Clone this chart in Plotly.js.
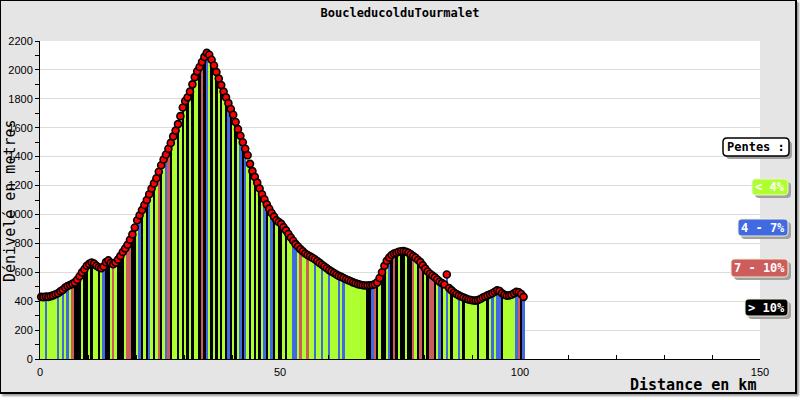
<!DOCTYPE html>
<html><head><meta charset="utf-8">
<script src="https://cdn.plot.ly/plotly-3.0.1.min.js"></script>
<style>
html,body{margin:0;padding:0;background:#fff;}
#frame{position:absolute;left:0;top:0;width:794px;height:391px;border-left:1px solid #000;border-top:1px solid #000;border-right:2px solid #000;border-bottom:2px solid #000;box-shadow:2px 2px 2px #999;background:#e5e5e5;}
#chart{position:absolute;left:0;top:0;width:800px;height:400px;}
</style></head><body>
<div id="frame"></div>
<div id="chart"></div>
<script>
// Elevation (m) every 0.5 km, starting at 0 km
const elevation = [
430,428,432,430,435,440,448,455,468,478,
495,505,512,520,530,548,572,600,620,645,
658,668,660,645,635,628,640,670,682,665,
655,668,688,712,740,765,790,825,862,910,
960,995,1030,1065,1100,1140,1180,1215,1250,1295,
1340,1380,1415,1455,1495,1540,1580,1625,1680,1740,
1785,1810,1850,1900,1950,1990,2020,2055,2090,2118,
2105,2070,2030,1985,1940,1895,1850,1810,1770,1730,
1690,1640,1590,1545,1500,1455,1410,1350,1300,1260,
1220,1180,1140,1105,1070,1040,1010,985,960,948,
935,912,890,865,840,818,795,778,760,745,
730,720,710,700,690,678,665,652,640,628,
615,605,595,585,575,568,560,552,545,538,
530,524,518,514,510,508,508,510,512,518,
530,560,600,645,680,702,720,730,735,742,
745,746,742,735,725,712,700,685,670,648,
625,605,590,578,565,550,535,525,515,585,
490,475,460,450,440,432,425,418,412,408,
405,404,408,415,425,432,440,448,455,465,
475,470,455,445,438,440,445,455,465,462,
450,430
];
// Slope class of each 0.5 km segment: 0 = <4%, 1 = 4-7%, 2 = 7-10%, 3 = >10%
const slopeClass = [
0,0,1,0,0,0,0,1,0,1,
0,1,0,2,3,3,3,0,3,3,
0,3,0,0,3,0,1,3,3,0,
2,0,3,3,3,0,2,2,3,3,
0,1,3,0,3,1,0,3,0,2,
3,0,1,2,3,0,0,3,0,3,
0,3,0,3,0,0,3,2,3,1,
0,3,0,3,0,3,0,3,1,3,
0,3,0,1,3,1,0,3,0,3,
0,3,0,1,3,0,1,3,0,3,
3,0,3,0,0,1,1,0,2,0,
0,2,0,0,1,0,0,1,0,0,
1,0,0,0,1,0,1,0,0,0,
0,0,0,0,0,0,3,3,1,2,
3,0,3,3,0,1,3,2,3,0,
3,3,0,3,3,2,0,3,2,3,
0,3,2,2,3,0,1,3,0,1,
0,3,0,0,1,0,3,0,0,0,
0,0,3,0,0,0,3,0,1,0,
1,1,3,0,0,0,0,0,1,2,
3,1
];
const classColors = ['#adff2f', '#4169e1', '#cd5c5c', '#000000'];
const legendLabels = ['Pentes :', '< 4%', '4 - 7%', '7 - 10%', '> 10%'];
const legendFill = ['#ffffff', '#adff2f', '#4169e1', '#cd5c5c', '#000000'];
const legendTextColor = ['#000000', '#ffffff', '#ffffff', '#ffffff', '#ffffff'];

// legend box placement in page pixels [left, top, right, bottom] (layout only)
const legendBoxes = [[723,138,789,156],[752,179,788,195],[738,219,788,236],[731,259,788,277],[745,299,788,316]];
const PX0 = 40, PXW = 720, PY0 = 359, PYH = 318;
const fx = p => (p - PX0) / PXW;
const fy = p => (PY0 - p) / PYH;

const esc = s => s.replace(/</g, '&lt;').replace(/>/g, '&gt;');
function roundRect(x0, y0, x1, y1, r) {
  const P = (x, y) => fx(x).toFixed(5) + ',' + fy(y).toFixed(5);
  return 'M' + P(x0 + r, y0) + ' L' + P(x1 - r, y0) + ' Q' + P(x1, y0) + ' ' + P(x1, y0 + r) +
    ' L' + P(x1, y1 - r) + ' Q' + P(x1, y1) + ' ' + P(x1 - r, y1) +
    ' L' + P(x0 + r, y1) + ' Q' + P(x0, y1) + ' ' + P(x0, y1 - r) +
    ' L' + P(x0, y0 + r) + ' Q' + P(x0, y0) + ' ' + P(x0 + r, y0) + ' Z';
}

const bars = {
  type: 'bar', x0: 0.25, dx: 0.5, y: elevation, width: 0.5,
  marker: {color: slopeClass.map(c => classColors[c]), line: {width: 0}},
  hoverinfo: 'skip', showlegend: false
};
const points = {
  type: 'scatter', mode: 'markers', x0: 0.25, dx: 0.5, y: elevation,
  marker: {color: '#ff0000', size: 7, line: {color: '#000000', width: 1.6}},
  hoverinfo: 'skip', showlegend: false, cliponaxis: false
};

const shapes = [];
const annotations = [];
legendLabels.forEach((lab, i) => {
  const b = legendBoxes[i];
  shapes.push({type: 'path', xref: 'paper', yref: 'paper', layer: 'above',
    path: roundRect(b[0] + 3, b[1] + 3, b[2] + 3, b[3] + 3, 4),
    fillcolor: '#a0a0a0', line: {width: 0}});
  shapes.push({type: 'path', xref: 'paper', yref: 'paper', layer: 'above',
    path: roundRect(b[0], b[1], b[2], b[3], 4),
    fillcolor: legendFill[i], line: {color: i === 0 ? '#000000' : '#f4f0d0', width: i === 0 ? 1.5 : 1}});
  annotations.push({
    xref: 'paper', yref: 'paper', x: fx((b[0] + b[2]) / 2), y: fy((b[1] + b[3]) / 2),
    xanchor: 'center', yanchor: 'middle',
    text: '<b>' + esc(lab) + '</b>', showarrow: false,
    font: {family: 'DejaVu Sans Mono', size: 12, color: legendTextColor[i]}
  });
});
annotations.push({
  xref: 'paper', yref: 'paper', x: fx(10), y: fy(201), xanchor: 'center', yanchor: 'middle',
  text: 'Dénivelé en metres', textangle: -90, showarrow: false,
  font: {family: 'DejaVu Sans Mono', size: 15, color: '#000'}
});
annotations.push({
  xref: 'paper', yref: 'paper', x: fx(758), y: fy(385), xanchor: 'right', yanchor: 'middle',
  text: '<b>Distance en km</b>', showarrow: false,
  font: {family: 'DejaVu Sans Mono', size: 15, color: '#000'}
});

const layout = {
  width: 800, height: 400,
  margin: {l: 40, r: 40, t: 41, b: 41, pad: 0},
  paper_bgcolor: 'rgba(0,0,0,0)', plot_bgcolor: '#ffffff',
  bargap: 0,
  title: {text: '<b>BoucleducolduTourmalet</b>', x: 0.5, xref: 'paper', y: 0.9675, yref: 'container', yanchor: 'middle',
    font: {family: 'DejaVu Sans Mono', size: 12, color: '#000'}},
  xaxis: {range: [0, 150], tick0: 0, dtick: 50, ticks: 'inside', ticklen: 4, tickcolor: '#000',
    minor: {dtick: 10, ticks: 'inside', ticklen: 4, tickcolor: '#000', showgrid: false},
    showgrid: false, zeroline: false, showline: true, linecolor: '#000', linewidth: 1,
    ticklabelstandoff: 3,
    tickfont: {family: 'Liberation Sans', size: 11, color: '#000'}, fixedrange: true},
  yaxis: {range: [0, 2200], tick0: 0, dtick: 200, ticks: 'outside', ticklen: 4, tickcolor: '#000',
    minor: {dtick: 100, ticks: 'outside', ticklen: 4, tickcolor: '#000', showgrid: false},
    showgrid: true, gridcolor: '#dcdcdc', gridwidth: 1, zeroline: false,
    showline: true, linecolor: '#000', linewidth: 1,
    tickfont: {family: 'Liberation Sans', size: 11, color: '#000'}, fixedrange: true},
  shapes: shapes,
  annotations: annotations,
  showlegend: false, hovermode: false
};
Plotly.newPlot('chart', [bars, points], layout, {staticPlot: true, displayModeBar: false});
</script></body></html>
